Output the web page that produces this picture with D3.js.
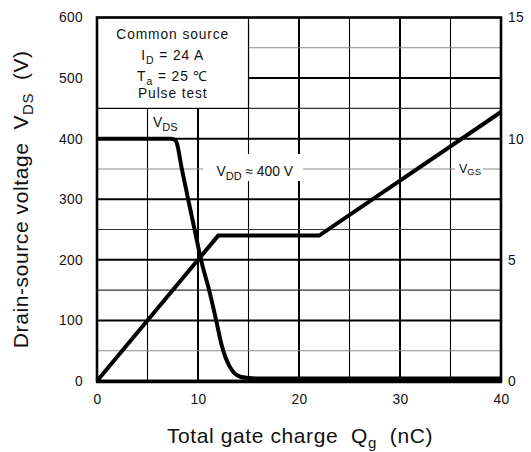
<!DOCTYPE html>
<html>
<head>
<meta charset="utf-8">
<script src="https://cdn.jsdelivr.net/npm/d3@7"></script>
<style>
  html, body { margin: 0; padding: 0; background: #fff; }
  svg { display: block; font-family: "Liberation Sans", Arial, sans-serif; }
  text { white-space: pre; fill: #111; }
</style>
</head>
<body>
<svg id="chart" width="531" height="452"></svg>
<script>
// ---- data ----
const qTicks = [0, 10, 20, 30, 40];
const vdsTicks = [0, 100, 200, 300, 400, 500, 600];
const vgsTicks = [0, 5, 10, 15];
const qGrid = [5, 10, 15, 20, 25, 30, 35];
const vGrid = [50, 100, 150, 200, 250, 300, 350, 400, 450, 500, 550];

// Drain-source voltage V_DS (V) vs gate charge Qg (nC)
const vdsQ = [0, 7.3, 7.6, 7.85, 8.4, 9.0, 9.7, 10.3, 11.1, 11.8, 12.3, 12.7, 13.1, 13.6, 14.2, 15.0, 16.0, 40];
const vdsV = [400, 400, 399, 395, 350, 302, 247, 200, 150, 100, 62, 40, 25, 13, 7, 5, 4, 4];
// Gate-source voltage V_GS (V) vs gate charge Qg (nC)
const vgsQ = [0, 12, 22, 40];
const vgsV = [0, 6.0, 6.0, 11.1];

const legendLines = ["Common source", "I_D = 24 A", "T_a = 25 \u2103", "Pulse test"];

// ---- layout ----
const L = 97, R = 501, T = 17.5, B = 381;
const svg = d3.select("#chart");
const x = d3.scaleLinear().domain([0, 40]).range([L, R]);
const y = d3.scaleLinear().domain([0, 600]).range([B, T]);
const yR = d3.scaleLinear().domain([0, 15]).range([B, T]);

// grid
const grid = svg.append("g");
grid.selectAll("line.vx").data(qGrid).join("line")
  .attr("x1", d => x(d)).attr("x2", d => x(d)).attr("y1", T).attr("y2", B)
  .attr("stroke", "#000").attr("stroke-width", d => d % 10 === 0 ? 2 : 1.1);
grid.selectAll("line.hy").data(vGrid).join("line")
  .attr("x1", L).attr("x2", R).attr("y1", d => y(d)).attr("y2", d => y(d))
  .attr("stroke", d => d % 100 === 0 ? "#000" : ([50, 350, 550].includes(d) ? "#8a8a8a" : "#333"))
  .attr("stroke-width", d => d % 100 === 0 ? 2 : 1.1);

// legend box (covers grid)
svg.append("rect").attr("x", L).attr("y", T).attr("width", x(15) - L).attr("height", y(450) - T)
  .attr("fill", "#fff").attr("stroke", "#000").attr("stroke-width", 1.2);

function subText(g, str, size, subSize, subDy) {
  const m = str.match(/^([^_]*)_(\S+)(.*)$/);
  if (!m) { g.text(str); return; }
  g.append("tspan").text(m[1]);
  g.append("tspan").attr("font-size", subSize).attr("dy", subDy).text(m[2]);
  g.append("tspan").attr("dy", -subDy).text(m[3]);
}

const legY = [39, 59.5, 81, 97.7];
legendLines.forEach((s, i) => {
  const t = svg.append("text").attr("x", (L + x(15)) / 2).attr("y", legY[i])
    .attr("text-anchor", "middle").attr("font-size", 13.8).attr("letter-spacing", 0.9);
  subText(t, s, 13.8, 10.5, 4);
});

// label backgrounds
svg.append("rect").attr("x", 203).attr("y", 154).attr("width", 100).attr("height", 27).attr("fill", "#fff");
svg.append("rect").attr("x", 455).attr("y", 160).attr("width", 28).attr("height", 20).attr("fill", "#fff");

// labels on chart
const tVDS = svg.append("text").attr("x", 153).attr("y", 127).attr("font-size", 13.8);
subText(tVDS, "V_DS", 13.8, 11, 4);
const tVDD = svg.append("text").attr("x", 216.5).attr("y", 176).attr("font-size", 13.8);
subText(tVDD, "V_DD \u2248 400 V", 13.8, 11, 4);
const tVGS = svg.append("text").attr("x", 459).attr("y", 173).attr("font-size", 12.5);
subText(tVGS, "V_GS", 12.5, 9.5, 2);

// curves
const line = d3.line().curve(d3.curveMonotoneX);
svg.append("path")
  .attr("d", line(vdsQ.map((q, i) => [x(q), y(vdsV[i])])))
  .attr("fill", "none").attr("stroke", "#000").attr("stroke-width", 4).attr("stroke-linejoin", "round");
svg.append("path")
  .attr("d", d3.line()(vgsQ.map((q, i) => [x(q), yR(vgsV[i])])))
  .attr("fill", "none").attr("stroke", "#000").attr("stroke-width", 4).attr("stroke-linejoin", "miter");

// frame
svg.append("rect").attr("x", L).attr("y", T).attr("width", R - L).attr("height", B - T)
  .attr("fill", "none").attr("stroke", "#000").attr("stroke-width", 2.6);
svg.append("line").attr("x1", L - 1).attr("x2", R + 1).attr("y1", B + 0.5).attr("y2", B + 0.5)
  .attr("stroke", "#000").attr("stroke-width", 3.4);

// axes (labels only)
function styleAxis(g) {
  g.select(".domain").remove();
  g.selectAll("line").remove();
  g.selectAll("text").attr("font-size", 13.8).attr("letter-spacing", 0.3)
    .attr("fill", "#111").style("font-family", '"Liberation Sans", Arial, sans-serif');
}
svg.append("g").attr("transform", `translate(${L},0)`)
  .call(d3.axisLeft(y).tickValues(vdsTicks).tickSize(0).tickPadding(14)).call(styleAxis);
svg.append("g").attr("transform", `translate(0,${B})`)
  .call(d3.axisBottom(x).tickValues(qTicks).tickSize(0).tickPadding(13.5)).call(styleAxis);
svg.append("g").attr("transform", `translate(${R},0)`)
  .call(d3.axisRight(yR).tickValues(vgsTicks).tickSize(0).tickPadding(7)).call(styleAxis);

// axis titles
const xt = svg.append("text").attr("x", 300).attr("y", 443).attr("text-anchor", "middle")
  .attr("font-size", 21).attr("letter-spacing", 0.6);
xt.append("tspan").text("Total gate charge  Q");
xt.append("tspan").attr("font-size", 15).attr("dy", 5).text("g");
xt.append("tspan").attr("dy", -5).text("  (nC)");

const yt = svg.append("text").attr("transform", `translate(28,${(T + B) / 2}) rotate(-90)`)
  .attr("text-anchor", "middle").attr("font-size", 21).attr("letter-spacing", 0.6);
yt.append("tspan").text("Drain-source voltage  V");
yt.append("tspan").attr("font-size", 15).attr("dy", 5).text("DS");
yt.append("tspan").attr("dy", -5).text("  (V)");
</script>
</body>
</html>
